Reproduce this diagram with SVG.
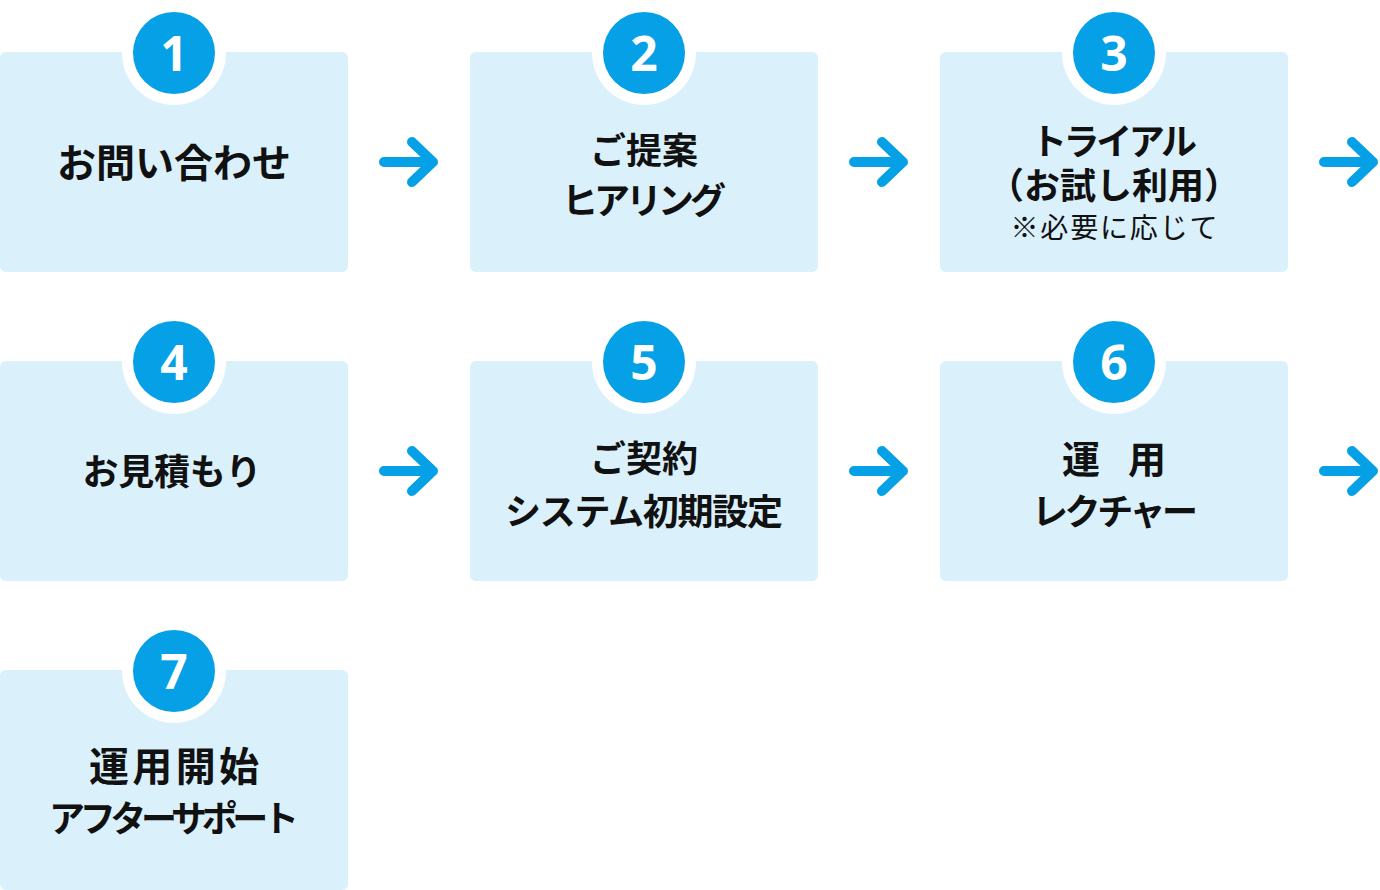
<svg xmlns="http://www.w3.org/2000/svg" xmlns:xlink="http://www.w3.org/1999/xlink" width="1380" height="890" viewBox="0 0 1380 890">
<style>
.box{fill:#daf0fb}
.ring{fill:#ffffff}
.dot{fill:#06a0e6}
.num{font-family:"Noto Sans","DejaVu Sans",sans-serif;font-weight:700;font-size:48px;fill:#ffffff;text-anchor:middle}
.t{font-family:"Noto Sans CJK JP","Noto Sans CJK SC",sans-serif;font-weight:700;font-size:36px;fill:#111111;text-anchor:middle}
.s{font-family:"Noto Sans CJK JP","Noto Sans CJK SC",sans-serif;font-weight:400;font-size:28px;fill:#111111;text-anchor:middle}
.arr{fill:none;stroke:#06a0e6;stroke-width:10;stroke-linecap:round;stroke-linejoin:round}
</style>
<defs>
<path id="arrow" d="M384,0 L433,0 M412,-20 L433,0 L412,20"/>
</defs>
<rect width="1380" height="890" fill="#ffffff"/>

<g id="connectors">
<use xlink:href="#arrow" href="#arrow" class="arr" transform="translate(0,162)"/>
<use xlink:href="#arrow" href="#arrow" class="arr" transform="translate(470,162)"/>
<use xlink:href="#arrow" href="#arrow" class="arr" transform="translate(940,162)"/>
<use xlink:href="#arrow" href="#arrow" class="arr" transform="translate(0,471)"/>
<use xlink:href="#arrow" href="#arrow" class="arr" transform="translate(470,471)"/>
<use xlink:href="#arrow" href="#arrow" class="arr" transform="translate(940,471)"/>
</g>

<g id="node1">
<rect class="box" x="0" y="52" width="348" height="220" rx="6"/>
<circle class="ring" cx="174" cy="53" r="52"/>
<circle class="dot" cx="174" cy="53" r="41"/>
<text class="num" x="174" y="71">1</text>
<text class="t" x="174" y="177" style="font-size:39px">お問い合わせ</text>
</g>

<g id="node2">
<rect class="box" x="470" y="52" width="348" height="220" rx="6"/>
<circle class="ring" cx="644" cy="53" r="52"/>
<circle class="dot" cx="644" cy="53" r="41"/>
<text class="num" x="644" y="71">2</text>
<text class="t" x="644" y="164">ご提案</text>
<text class="t" x="644" y="214" textLength="164" lengthAdjust="spacing">ヒアリング</text>
</g>

<g id="node3">
<rect class="box" x="940" y="52" width="348" height="220" rx="6"/>
<circle class="ring" cx="1114" cy="53" r="52"/>
<circle class="dot" cx="1114" cy="53" r="41"/>
<text class="num" x="1114" y="71">3</text>
<text class="t" x="1114" y="155" textLength="166" lengthAdjust="spacing">トライアル</text>
<text class="t" x="1114" y="199">（お試し利用）</text>
<text class="s" x="1114" y="238" textLength="207" lengthAdjust="spacing">※必要に応じて</text>
</g>

<g id="node4">
<rect class="box" x="0" y="361" width="348" height="220" rx="6"/>
<circle class="ring" cx="174" cy="362" r="52"/>
<circle class="dot" cx="174" cy="362" r="41"/>
<text class="num" x="174" y="380">4</text>
<text class="t" x="172" y="485" textLength="179" lengthAdjust="spacing">お見積もり</text>
</g>

<g id="node5">
<rect class="box" x="470" y="361" width="348" height="220" rx="6"/>
<circle class="ring" cx="644" cy="362" r="52"/>
<circle class="dot" cx="644" cy="362" r="41"/>
<text class="num" x="644" y="380">5</text>
<text class="t" x="644" y="472">ご契約</text>
<text class="t" x="644" y="525" textLength="278" lengthAdjust="spacing">システム初期設定</text>
</g>

<g id="node6">
<rect class="box" x="940" y="361" width="348" height="220" rx="6"/>
<circle class="ring" cx="1114" cy="362" r="52"/>
<circle class="dot" cx="1114" cy="362" r="41"/>
<text class="num" x="1114" y="380">6</text>
<text class="t" x="1114" y="473" style="font-size:38px" textLength="104" lengthAdjust="spacing">運　用</text>
<text class="t" x="1115" y="525" textLength="166" lengthAdjust="spacing">レクチャー</text>
</g>

<g id="node7">
<rect class="box" x="0" y="670" width="348" height="220" rx="6"/>
<circle class="ring" cx="174" cy="671" r="52"/>
<circle class="dot" cx="174" cy="671" r="41"/>
<text class="num" x="174" y="689">7</text>
<text class="t" x="174" y="781" style="font-size:40px" textLength="170" lengthAdjust="spacing">運用開始</text>
<text class="t" x="174" y="832" textLength="250" lengthAdjust="spacing">アフターサポート</text>
</g>
</svg>
